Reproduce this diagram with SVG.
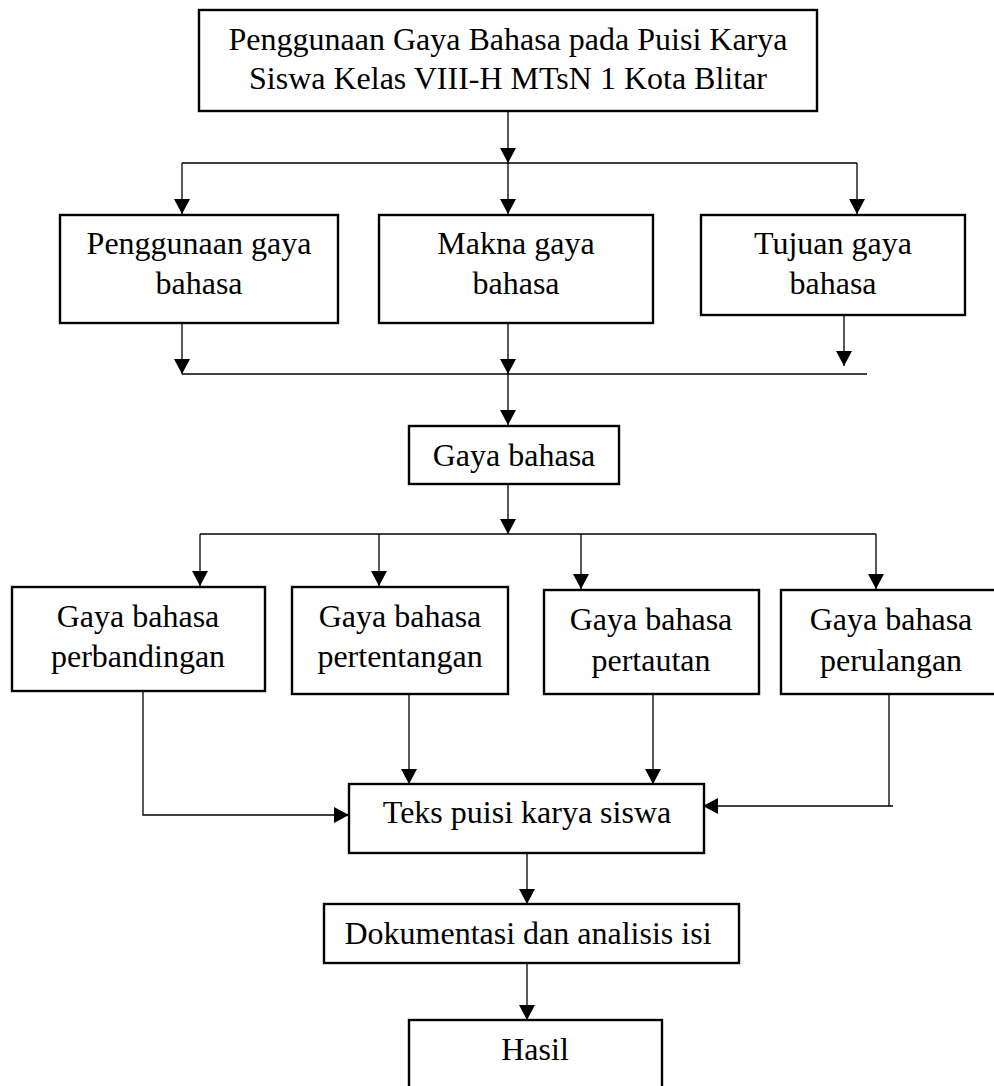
<svg xmlns="http://www.w3.org/2000/svg" width="994" height="1086" viewBox="0 0 994 1086">
<defs>
<marker id="ah" markerUnits="userSpaceOnUse" markerWidth="15" markerHeight="16" refX="15" refY="8" orient="auto">
<path d="M0,0 L15,8 L0,16 z" fill="#000"/>
</marker>
<style>
.box{fill:#fff;stroke:#000;stroke-width:2.4}
.t{font-family:"Liberation Serif","Times New Roman",serif;font-size:32px;fill:#000;text-anchor:middle}
.c{fill:none;stroke:#000;stroke-width:1.3}
.a{marker-end:url(#ah)}
</style>
</defs>
<rect width="994" height="1086" fill="#fff"/>
<g id="connectors">
<line class="c a" x1="508" y1="111" x2="508" y2="163"/>
<line class="c" x1="182" y1="163" x2="857" y2="163"/>
<line class="c a" x1="182" y1="163" x2="182" y2="214"/>
<line class="c a" x1="508" y1="163" x2="508" y2="214"/>
<line class="c a" x1="857" y1="163" x2="857" y2="214"/>
<line class="c a" x1="182" y1="323" x2="182" y2="374"/>
<line class="c a" x1="508" y1="323" x2="508" y2="374"/>
<line class="c a" x1="844" y1="315" x2="844" y2="366"/>
<line class="c" x1="182" y1="374" x2="867" y2="374"/>
<line class="c a" x1="508" y1="374" x2="508" y2="425"/>
<line class="c a" x1="508" y1="484" x2="508" y2="534"/>
<line class="c" x1="200" y1="534" x2="876" y2="534"/>
<line class="c a" x1="200" y1="534" x2="200" y2="586"/>
<line class="c a" x1="379" y1="534" x2="379" y2="586"/>
<line class="c a" x1="581" y1="534" x2="581" y2="589"/>
<line class="c a" x1="876" y1="534" x2="876" y2="589"/>
<polyline class="c a" points="143,691 143,815 349,815"/>
<line class="c a" x1="409" y1="694" x2="409" y2="784"/>
<line class="c a" x1="653" y1="694" x2="653" y2="784"/>
<polyline class="c a" points="889,694 889,806 893,806 703,806"/>
<line class="c a" x1="527" y1="853" x2="527" y2="904"/>
<line class="c a" x1="527" y1="963" x2="527" y2="1020"/>
</g>
<g id="n-judul">
<rect class="box" x="199" y="10" width="618" height="101"/>
<text class="t" x="508" y="50">Penggunaan Gaya Bahasa pada Puisi Karya</text>
<text class="t" x="508" y="89">Siswa Kelas VIII-H MTsN 1 Kota Blitar</text>
</g>
<g id="n-penggunaan">
<rect class="box" x="60" y="215" width="278" height="108"/>
<text class="t" x="199" y="254">Penggunaan gaya</text>
<text class="t" x="199" y="294">bahasa</text>
</g>
<g id="n-makna">
<rect class="box" x="379" y="215" width="274" height="108"/>
<text class="t" x="516" y="254">Makna gaya</text>
<text class="t" x="516" y="294">bahasa</text>
</g>
<g id="n-tujuan">
<rect class="box" x="701" y="215" width="264" height="100"/>
<text class="t" x="833" y="254">Tujuan gaya</text>
<text class="t" x="833" y="294">bahasa</text>
</g>
<g id="n-gaya">
<rect class="box" x="409" y="426" width="210" height="58"/>
<text class="t" x="514" y="466">Gaya bahasa</text>
</g>
<g id="n-perbandingan">
<rect class="box" x="12" y="587" width="253" height="104"/>
<text class="t" x="138" y="627">Gaya bahasa</text>
<text class="t" x="138" y="667">perbandingan</text>
</g>
<g id="n-pertentangan">
<rect class="box" x="292" y="587" width="216" height="107"/>
<text class="t" x="400" y="627">Gaya bahasa</text>
<text class="t" x="400" y="667">pertentangan</text>
</g>
<g id="n-pertautan">
<rect class="box" x="544" y="590" width="215" height="104"/>
<text class="t" x="651" y="630">Gaya bahasa</text>
<text class="t" x="651" y="671">pertautan</text>
</g>
<g id="n-perulangan">
<rect class="box" x="781" y="590" width="220" height="104"/>
<text class="t" x="891" y="630">Gaya bahasa</text>
<text class="t" x="891" y="671">perulangan</text>
</g>
<g id="n-teks">
<rect class="box" x="349" y="784" width="355" height="69"/>
<text class="t" x="527" y="823">Teks puisi karya siswa</text>
</g>
<g id="n-dokumentasi">
<rect class="box" x="324" y="904" width="415" height="59"/>
<text class="t" x="528" y="944">Dokumentasi dan analisis isi</text>
</g>
<g id="n-hasil">
<rect class="box" x="409" y="1020" width="253" height="80"/>
<text class="t" x="535" y="1060">Hasil</text>
</g>
</svg>
